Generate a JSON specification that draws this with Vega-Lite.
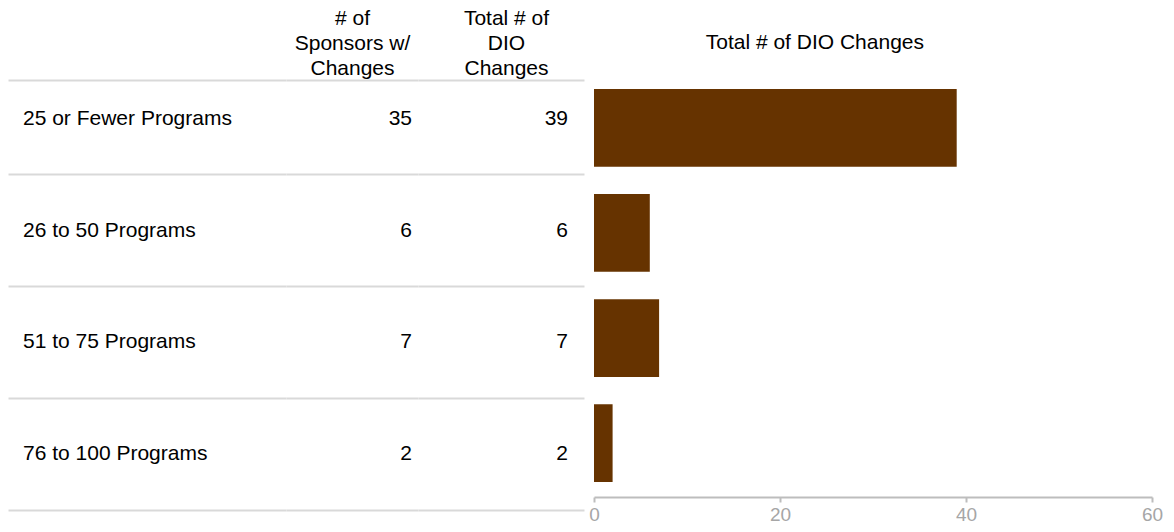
{
  "$schema": "https://vega.github.io/schema/vega-lite/v6.json",
  "padding": {"left": 8, "top": 7, "right": 0, "bottom": 0},
  "background": "white",
  "config": {
    "view": {"stroke": null},
    "font": "Liberation Sans",
    "axis": {"labelFont": "Liberation Sans", "titleFont": "Liberation Sans"},
    "title": {"font": "Liberation Sans"}
  },
  "data": {
    "values": [
      {"Group": "25 or Fewer Programs", "Sponsors": 35, "Total": 39},
      {"Group": "26 to 50 Programs", "Sponsors": 6, "Total": 6},
      {"Group": "51 to 75 Programs", "Sponsors": 7, "Total": 7},
      {"Group": "76 to 100 Programs", "Sponsors": 2, "Total": 2}
    ]
  },
  "spacing": 4,
  "hconcat": [
    {
      "spacing": 0,
      "hconcat": [
        {
          "width": 278,
          "height": 430,
          "mark": {"type": "text", "align": "left", "baseline": "middle", "fontSize": 21, "dx": 15, "color": "#000000"},
          "encoding": {
            "y": {"field": "Group", "type": "nominal", "sort": null,
                  "scale": {"type": "band", "range": [-17, 430], "paddingInner": 0, "paddingOuter": 0},
                  "axis": {"title": null, "labels": false, "ticks": false, "domain": false, "grid": true, "gridColor": "#d9d9d9", "gridWidth": 2, "bandPosition": 1, "minExtent": 0}},
            "x": {"datum": 0, "type": "quantitative", "scale": {"domain": [0, 1]},
                  "axis": {"orient": "top", "title": null, "labels": false, "ticks": false, "grid": false, "domain": true, "domainColor": "#d9d9d9", "domainWidth": 2, "minExtent": 0}},
            "text": {"field": "Group", "type": "nominal"}
          }
        },
        {
          "width": 132,
          "height": 430,
          "mark": {"type": "text", "align": "right", "baseline": "middle", "fontSize": 21, "dx": -6, "color": "#000000"},
          "encoding": {
            "y": {"field": "Group", "type": "nominal", "sort": null,
                  "scale": {"type": "band", "range": [-17, 430], "paddingInner": 0, "paddingOuter": 0},
                  "axis": {"title": null, "labels": false, "ticks": false, "domain": false, "grid": true, "gridColor": "#d9d9d9", "gridWidth": 2, "bandPosition": 1, "minExtent": 0}},
            "x": {"datum": 1, "type": "quantitative", "scale": {"domain": [0, 1]},
                  "axis": {"orient": "top", "title": ["# of", "Sponsors w/", "Changes"], "titleFontSize": 21, "titleFontWeight": "normal", "titleColor": "#000000", "titleLineHeight": 25, "titlePadding": 2, "labels": false, "ticks": false, "grid": false, "domain": true, "domainColor": "#d9d9d9", "domainWidth": 2, "minExtent": 0}},
            "text": {"field": "Sponsors", "type": "quantitative"}
          }
        },
        {
          "width": 166,
          "height": 430,
          "mark": {"type": "text", "align": "right", "baseline": "middle", "fontSize": 21, "dx": -16, "color": "#000000"},
          "encoding": {
            "y": {"field": "Group", "type": "nominal", "sort": null,
                  "scale": {"type": "band", "range": [-17, 430], "paddingInner": 0, "paddingOuter": 0},
                  "axis": {"title": null, "labels": false, "ticks": false, "domain": false, "grid": true, "gridColor": "#d9d9d9", "gridWidth": 2, "bandPosition": 1, "minExtent": 0}},
            "x": {"datum": 1, "type": "quantitative", "scale": {"domain": [0, 1]},
                  "axis": {"orient": "top", "title": ["Total # of", "DIO", "Changes"], "titleX": 88, "titleFontSize": 21, "titleFontWeight": "normal", "titleColor": "#000000", "titleLineHeight": 25, "titlePadding": 2, "labels": false, "ticks": false, "grid": false, "domain": true, "domainColor": "#d9d9d9", "domainWidth": 2, "minExtent": 0}},
            "text": {"field": "Total", "type": "quantitative"}
          }
        }
      ]
    },
    {
      "width": 558,
      "height": 417,
      "title": {"text": "Total # of DIO Changes", "anchor": "start", "dx": 117, "fontSize": 21, "fontWeight": "normal", "color": "#000000", "offset": 27},
      "mark": {"type": "bar", "color": "#663300"},
      "encoding": {
        "y": {"field": "Group", "type": "nominal", "sort": null,
              "scale": {"paddingInner": 0.26, "paddingOuter": 0.1137, "align": 0.375},
              "axis": null},
        "x": {"field": "Total", "type": "quantitative", "scale": {"domain": [0, 60]},
              "axis": {"values": [0, 20, 40, 60], "title": null, "grid": false, "labelFlush": false, "domainColor": "#bdbdbd", "domainWidth": 2, "tickColor": "#bdbdbd", "tickWidth": 2, "tickSize": 5, "labelColor": "#a6a6a6", "labelFontSize": 19, "labelPadding": 3}}
      }
    }
  ]
}
